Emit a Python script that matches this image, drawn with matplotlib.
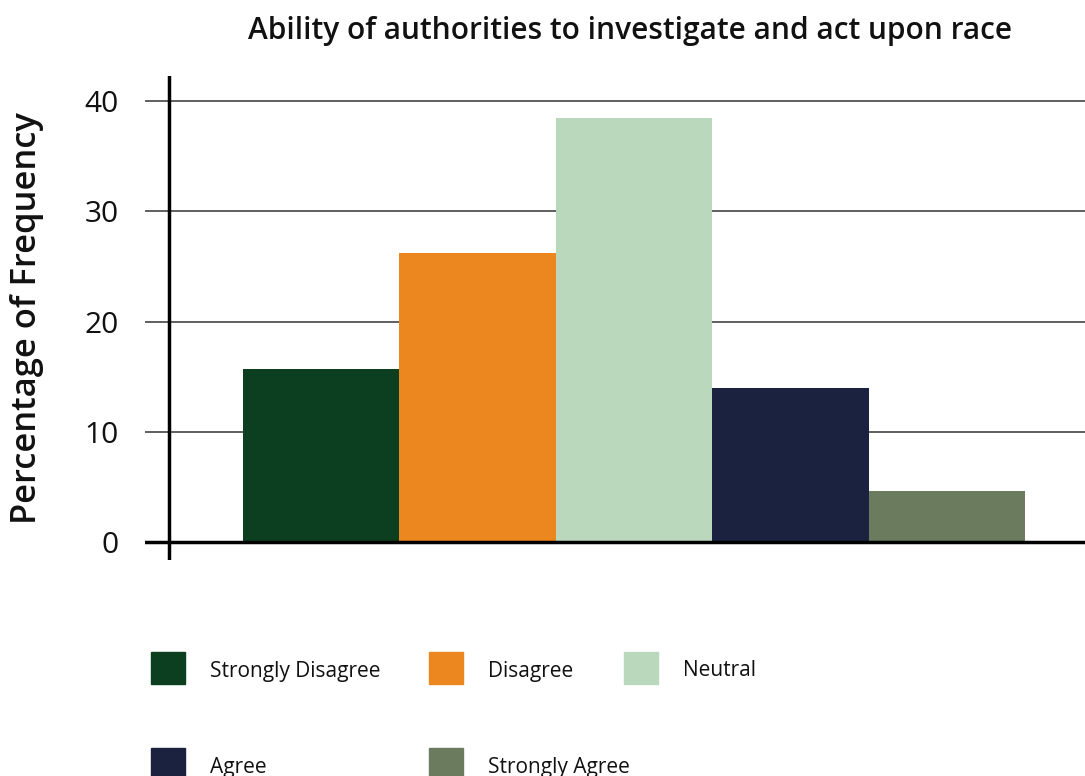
import matplotlib
matplotlib.use('Agg')
import matplotlib.pyplot as plt
from matplotlib.patches import Rectangle

categories = ['Strongly Disagree', 'Disagree', 'Neutral', 'Agree', 'Strongly Agree']
percentages = [15.7, 26.2, 38.5, 14.0, 4.6]
colors = ['#0b3f20', '#eb871e', '#b9d8bc', '#1b2240', '#6a7b5e']
y_ticks = [0, 10, 20, 30, 40]
title = 'Ability of authorities to investigate and act upon race'

plt.rcParams['font.family'] = ['Open Sans', 'DejaVu Sans']

W, H = 1085, 776
fig = plt.figure(figsize=(W / 100, H / 100), dpi=100)
ax = fig.add_axes([145 / W, (H - 560) / H, (W - 145) / W, (560 - 76) / H])

x = list(range(len(categories)))
ax.bar(x, percentages, width=1.0, color=colors, zorder=3)

ax.set_xlim(-1.127, 4.884)
ax.set_ylim(-1.63, 42.27)

# grid lines and the zero baseline
for t in y_ticks[1:]:
    ax.axhline(t, color='#444444', lw=1.2, zorder=1)
ax.axhline(0, color='black', lw=2.5, zorder=4)
ax.axvline(-0.973, color='black', lw=2.5, zorder=4)

for s in ax.spines.values():
    s.set_visible(False)
ax.set_xticks([])
ax.set_yticks(y_ticks)
ax.set_yticklabels([str(t) for t in y_ticks], fontsize=21.5, color='#111111')
ax.tick_params(axis='y', length=0, pad=19)

fig.text(27 / W, 1 - 318 / H, 'Percentage of Frequency', rotation=90,
         ha='center', va='center', fontsize=24.8, fontweight='semibold', color='#111111')
fig.text(630 / W, 1 - 31 / H, title, ha='center', va='center',
         fontsize=21.5, fontweight='semibold', color='#111111')

# legend laid out in two rows
legend_pos = [(151, 668), (429, 668), (624, 668), (151, 764), (429, 764)]
for (px, py), label, c in zip(legend_pos, categories, colors):
    fig.add_artist(Rectangle((px / W, 1 - (py + 16) / H), 34 / W, 32 / H,
                             transform=fig.transFigure, color=c))
    fig.text((px + 59) / W, 1 - (py + 3) / H, label, ha='left', va='center',
             fontsize=15, color='#111111')

fig.savefig('out.png', dpi=100)
